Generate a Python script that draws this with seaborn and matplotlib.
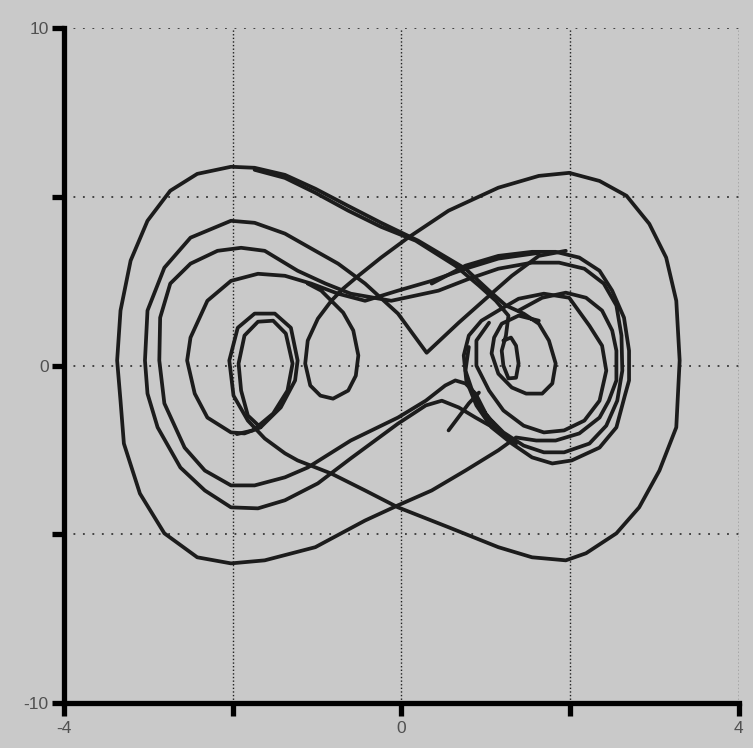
import pandas as pd
import seaborn as sns
import matplotlib
matplotlib.use("Agg")
import matplotlib.pyplot as plt

# axes
x_ticks = [-4, -2, 0, 2, 4]
x_tick_labels = ["-4", "", "0", "", "4"]
y_ticks = [-10, -5, 0, 5, 10]
y_tick_labels = ["-10", "", "0", "", "10"]

# trajectory strokes (x, dx/dt)
outer_x = [1.39, 1.67, 1.95, 2.19, 2.38, 2.50, 2.55, 2.55, 2.46, 2.35, 2.11, 1.83, 1.60, 1.36, 1.15, 0.76,
           0.36, -0.04, -0.43, -1.02, -1.62, -2.02, -2.42, -2.81, -3.10, -3.29, -3.33, -3.37, -3.33, -3.21,
           -3.01, -2.74, -2.42, -2.02, -1.74, -1.38, -1.02, -0.63, -0.24, 0.20, 0.76, 1.04, 1.24, 1.45, 1.63,
           1.75, 1.83, 1.79, 1.67, 1.48, 1.31, 1.15, 1.07, 1.10, 1.19, 1.39, 1.63]
outer_y = [1.63, 2.01, 2.16, 2.01, 1.63, 1.04, 0.44, -0.44, -1.04, -1.54, -2.01, -2.22, -2.22, -2.13, -2.51,
           -3.11, -3.70, -4.14, -4.59, -5.38, -5.77, -5.86, -5.68, -4.97, -3.79, -2.31, -1.04, 0.15, 1.63,
           3.11, 4.29, 5.18, 5.68, 5.89, 5.86, 5.65, 5.24, 4.73, 4.23, 3.70, 2.87, 2.22, 1.78, 1.54, 1.24,
           0.74, 0.06, -0.53, -0.83, -0.83, -0.65, -0.24, 0.36, 0.83, 1.24, 1.48, 1.33]

top2_x = [-1.74, -1.38, -1.02, -0.63, -0.24, 0.17, 0.64, 0.92, 1.12, 1.27, 1.24, 1.19, 1.21, 1.27, 1.36,
          1.39, 1.36, 1.30, 1.21]
top2_y = [5.80, 5.56, 5.12, 4.59, 4.11, 3.70, 2.96, 2.37, 1.92, 1.48, 0.89, 0.44, 0.00, -0.38, -0.36,
          0.06, 0.59, 0.83, 0.74]

ring2_x = [1.36, 1.15, 0.88, 0.68, 0.48, 0.29, -0.04, -0.60, -0.99, -1.38, -1.70, -2.02, -2.33, -2.62,
           -2.89, -3.01, -3.04, -3.01, -2.81, -2.50, -2.02, -1.74, -1.38, -1.02, -0.75, -0.43, -0.04, 0.30,
           0.68, 1.00, 1.31, 1.63, 1.95]
ring2_y = [-2.31, -1.92, -1.54, -1.24, -1.04, -1.18, -1.72, -2.75, -3.49, -3.99, -4.23, -4.20, -3.70,
           -3.02, -1.83, -0.83, 0.15, 1.63, 2.90, 3.79, 4.29, 4.23, 3.91, 3.40, 3.02, 2.43, 1.54, 0.38,
           1.27, 1.98, 2.66, 3.25, 3.40]

ring3_x = [1.15, 1.00, 0.88, 0.76, 0.64, 0.52, 0.29, -0.04, -0.60, -1.11, -1.38, -1.74, -2.02, -2.33,
           -2.57, -2.81, -2.87, -2.86, -2.74, -2.50, -2.18, -1.90, -1.62, -1.23, -0.90, -0.60, -0.12, 0.44,
           0.80, 1.15, 1.55, 1.87, 2.17, 2.40, 2.55, 2.61, 2.62, 2.56, 2.43, 2.23, 1.93, 1.69, 1.45, 1.21,
           1.01, 0.86, 0.76, 0.80]
ring3_y = [-1.92, -1.42, -0.83, -0.53, -0.44, -0.59, -1.04, -1.54, -2.22, -3.02, -3.31, -3.55, -3.55,
           -3.11, -2.43, -1.12, 0.15, 1.42, 2.43, 3.02, 3.40, 3.49, 3.40, 2.81, 2.43, 2.13, 1.92, 2.22,
           2.57, 2.87, 3.05, 3.05, 2.87, 2.43, 1.78, 0.89, -0.15, -1.04, -1.78, -2.31, -2.57, -2.57, -2.37,
           -1.98, -1.48, -0.89, -0.15, 0.55]

ring4_x = [1.63, 1.15, 0.76, 0.36, -0.04, -0.43, -0.75, -1.07, -1.38, -1.70, -2.02, -2.30, -2.50, -2.54,
           -2.45, -2.30, -2.02, -1.86, -1.67, -1.43, -1.26, -1.23, -1.31, -1.50, -1.74, -1.94, -2.04, -1.99,
           -1.82, -1.62, -1.38, -1.23, -0.83, -0.43, -0.04, 0.56, 1.15, 1.55, 1.95, 2.19, 2.55, 2.82, 3.06,
           3.26, 3.30, 3.26, 3.14, 2.94, 2.67, 2.35, 1.99, 1.63, 1.15, 0.56, 0.08, -0.24, -0.51, -0.69,
           -0.83, -0.99, -1.11, -1.14, -1.08, -0.96, -0.81, -0.63, -0.54, -0.51, -0.57, -0.69, -0.83, -0.95,
           -1.11]
ring4_y = [3.34, 3.17, 2.87, 2.51, 2.22, 1.92, 2.13, 2.43, 2.66, 2.72, 2.51, 1.92, 0.83, 0.15, -0.83,
           -1.54, -1.98, -2.01, -1.83, -1.24, -0.44, 0.15, 1.12, 1.54, 1.54, 1.12, 0.15, -0.89, -1.63,
           -2.16, -2.60, -2.81, -3.20, -3.70, -4.20, -4.79, -5.38, -5.68, -5.77, -5.56, -4.97, -4.20, -3.11,
           -1.83, 0.15, 1.92, 3.20, 4.20, 5.03, 5.47, 5.71, 5.62, 5.27, 4.59, 3.79, 3.20, 2.66, 2.28, 1.92,
           1.39, 0.74, 0.06, -0.59, -0.89, -0.98, -0.74, -0.30, 0.30, 1.04, 1.57, 1.92, 2.22, 2.43]

small_x = [-1.67, -1.82, -1.90, -1.93, -1.86, -1.70, -1.52, -1.37, -1.29, -1.35, -1.52, -1.76, -1.95]
small_y = [-1.83, -1.48, -0.74, 0.06, 0.89, 1.30, 1.33, 0.95, 0.06, -0.74, -1.42, -1.92, -2.03]

right_x = [0.36, 0.76, 1.15, 1.55, 1.83, 2.11, 2.35, 2.50, 2.64, 2.70, 2.70, 2.65, 2.55, 2.35, 2.02, 1.79,
           1.55, 1.31, 1.07, 0.89, 0.77, 0.74, 0.80, 0.95, 1.15, 1.39, 1.69, 1.99, 2.23, 2.38, 2.43, 2.35,
           2.17, 1.93, 1.69, 1.45, 1.21, 1.04, 0.89, 0.89, 1.04]
right_y = [2.43, 2.96, 3.25, 3.37, 3.37, 3.20, 2.81, 2.22, 1.42, 0.44, -0.44, -0.89, -1.83, -2.43, -2.81,
           -2.90, -2.72, -2.31, -1.83, -1.18, -0.44, 0.30, 0.89, 1.33, 1.63, 1.98, 2.13, 2.01, 1.18, 0.59,
           -0.15, -1.04, -1.63, -1.92, -1.98, -1.78, -1.33, -0.74, 0.00, 0.74, 1.27]

tail_x = [0.56, 0.80, 0.92]
tail_y = [-1.92, -1.12, -0.80]

strokes = {
    "outer": (outer_x, outer_y),
    "top2": (top2_x, top2_y),
    "ring2": (ring2_x, ring2_y),
    "ring3": (ring3_x, ring3_y),
    "ring4": (ring4_x, ring4_y),
    "small": (small_x, small_y),
    "right": (right_x, right_y),
    "tail": (tail_x, tail_y),
}

rows = []
for name, (xs, ys) in strokes.items():
    for i, (a, b) in enumerate(zip(xs, ys)):
        rows.append({"stroke": name, "order": i, "x": a, "v": b})
df = pd.DataFrame(rows)

sns.set_style("ticks")
plt.rcParams["font.family"] = ["Liberation Sans", "DejaVu Sans"]

bg = "#c9c9c9"
fig = plt.figure(figsize=(7.53, 7.48), dpi=100, facecolor=bg)
ax = fig.add_axes([0.085, 0.060, 0.896, 0.9025])
ax.set_facecolor(bg)

sns.lineplot(data=df, x="x", y="v", units="stroke", estimator=None, sort=False,
             color="#1c1c1c", lw=2.7, ax=ax, legend=False,
             solid_joinstyle="round", solid_capstyle="round")

ax.set_xlim(-4, 4)
ax.set_ylim(-10, 10)
ax.set_xticks(x_ticks)
ax.set_xticklabels(x_tick_labels)
ax.set_yticks(y_ticks)
ax.set_yticklabels(y_tick_labels)
ax.set_xlabel("")
ax.set_ylabel("")

# dotted grid
for gx in x_ticks[1:]:
    ax.axvline(gx, color="#1e1e1e", lw=1.0, ls=(0, (1, 1.6)), zorder=0)
for gy in y_ticks[1:]:
    ax.axhline(gy, color="#1e1e1e", lw=1.1, ls=(0, (1.2, 5)), zorder=0)

for side in ["top", "right"]:
    ax.spines[side].set_visible(False)
for side in ["left", "bottom"]:
    ax.spines[side].set_linewidth(3.8)
    ax.spines[side].set_color("black")
    ax.spines[side].set_capstyle("projecting")

ax.tick_params(axis="both", direction="out", length=9, width=3.8, color="black",
               labelsize=12.5, labelcolor="#505050", pad=2)
ax.tick_params(axis="x", pad=4)

fig.savefig("out.png", dpi=100, facecolor=bg)
